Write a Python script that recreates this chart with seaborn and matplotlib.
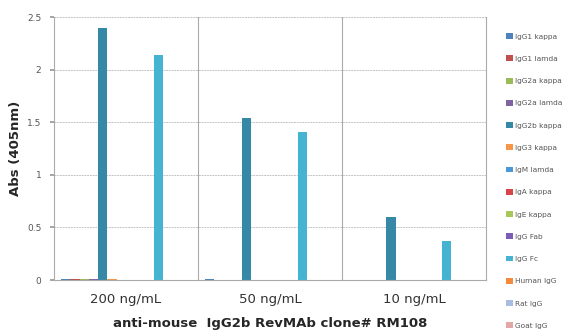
import numpy as np
import pandas as pd
import matplotlib
matplotlib.use("Agg")
import matplotlib.pyplot as plt
import seaborn as sns

concentrations = ["200 ng/mL", "50 ng/mL", "10 ng/mL"]
series = ["IgG1 kappa", "IgG1 lamda", "IgG2a kappa", "IgG2a lamda", "IgG2b kappa",
          "IgG3 kappa", "IgM lamda", "IgA kappa", "IgE kappa", "IgG Fab", "IgG Fc",
          "Human IgG", "Rat IgG", "Goat IgG"]
values_200 = [0.012, 0.012, 0.012, 0.008, 2.40, 0.012, 0.0, 0.0, 0.0, 0.0, 2.14, 0.0, 0.0, 0.0]
values_50 = [0.012, 0.0, 0.0, 0.0, 1.54, 0.0, 0.0, 0.0, 0.0, 0.0, 1.41, 0.0, 0.0, 0.0]
values_10 = [0.0, 0.0, 0.0, 0.0, 0.60, 0.0, 0.0, 0.0, 0.0, 0.0, 0.37, 0.0, 0.0, 0.0]
colors = ["#4F81BD", "#C0504D", "#9BBB59", "#8064A2", "#3589A6", "#F79646",
          "#4A98D8", "#D9434E", "#A6C85A", "#7D5CB8", "#45B4D2", "#F68A3C",
          "#A9BCE2", "#E3A7A8"]

rows = []
for conc, vals in zip(concentrations, [values_200, values_50, values_10]):
    for s, v in zip(series, vals):
        rows.append({"conc": conc, "series": s, "value": v})
df = pd.DataFrame(rows)

sns.set_theme(style="white")
plt.rcParams['font.family'] = ['DejaVu Sans']

fig = plt.figure(figsize=(5.62, 3.35), dpi=100)
ax = fig.add_axes([0.096, 0.164, 0.769, 0.785])

sns.barplot(data=df, x="conc", y="value", hue="series", order=concentrations,
            hue_order=series, palette=colors, width=0.903, gap=0, ax=ax,
            saturation=1, errorbar=None, legend=True, linewidth=0, edgecolor="none")

ax.set_xlim(-0.5, 2.5)
ax.set_ylim(0, 2.5)
ax.set_yticks([0, 0.5, 1, 1.5, 2, 2.5])
ax.set_yticklabels(["0", "0.5", "1", "1.5", "2", "2.5"], fontsize=6.5, color="#555555")
ax.tick_params(axis="y", length=3, color="#999999", pad=6, left=True)
ax.tick_params(axis="x", length=0, labelsize=9.5, pad=9, labelcolor="#333333")
ax.yaxis.grid(True, color="#c4c4c4", linewidth=0.7, linestyle=(0, (2, 0.8)))
ax.set_axisbelow(True)
for x in [0.5, 1.5]:
    ax.axvline(x, color="#aaaaaa", linewidth=0.8)
for name, sp in ax.spines.items():
    sp.set_color("#aaaaaa")
    sp.set_linewidth(0.8)
ax.spines["top"].set_visible(False)

ax.set_ylabel("Abs (405nm)", fontsize=9.5, fontweight="bold", labelpad=4)
ax.set_xlabel("anti-mouse  IgG2b RevMAb clone# RM108", fontsize=9.5,
              fontweight="bold", labelpad=8)

handles, labels = ax.get_legend_handles_labels()
ax.legend(handles, labels, loc="upper left", bbox_to_anchor=(1.04, 0.95),
          frameon=False, fontsize=5.3, handlelength=0.85, handleheight=0.85,
          handletextpad=0.35, labelspacing=2.14, borderaxespad=0,
          labelcolor="#555555")

fig.savefig("out.png", dpi=100)
